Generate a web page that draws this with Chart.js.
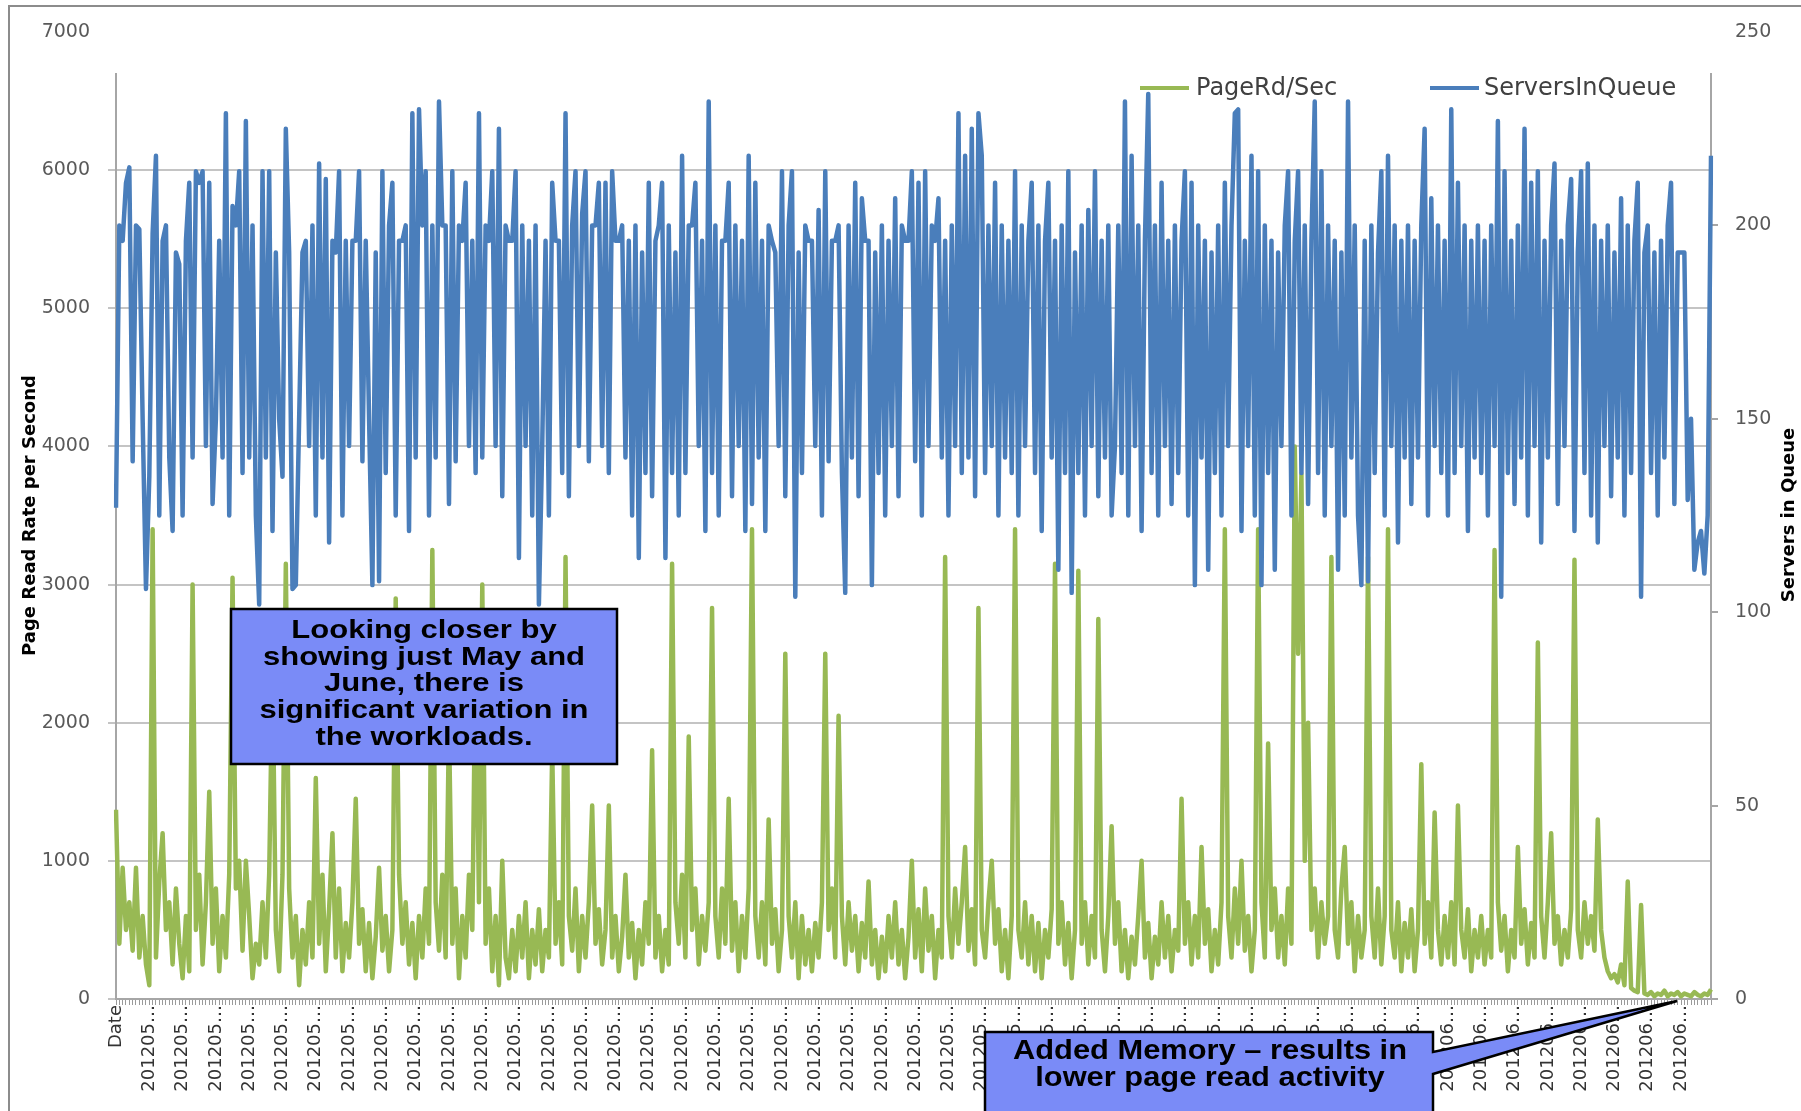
<!DOCTYPE html>
<html><head><meta charset="utf-8">
<script src="https://cdn.jsdelivr.net/npm/chart.js@4.4.1/dist/chart.umd.min.js"></script>
<style>html,body{margin:0;padding:0;background:#fff;}canvas{display:block;}</style>
</head><body>
<canvas id="c" width="1801" height="1111"></canvas>
<script>
const tickLabels = ["Date",
 "201205…","201205…","201205…","201205…","201205…","201205…","201205…","201205…","201205…","201205…",
 "201205…","201205…","201205…","201205…","201205…","201205…","201205…","201205…","201205…","201205…",
 "201205…","201205…","201205…","201205…","201205…","201205…","201205…","201205…","201205…","201205…",
 "201205…","201205…","201205…","201205…","201205…","201205…",
 "201206…","201206…","201206…","201206…","201206…","201206…","201206…","201206…","201206…","201206…","201206…"];

const pageReads = [
1370,400,950,500,700,350,950,300,600,250,
100,3400,300,850,1200,500,700,250,800,400,
150,600,200,3000,500,900,250,700,1500,400,
800,200,600,300,900,3050,800,1000,350,1000,
600,150,400,250,700,300,900,2400,500,200,
900,3150,800,300,600,100,500,250,700,300,
1600,400,900,200,650,1200,300,800,200,550,
300,700,1450,400,650,200,550,150,450,950,
350,600,200,500,2900,900,400,700,250,550,
150,600,300,800,400,3250,700,350,900,300,
2000,400,800,150,600,300,900,500,2600,700,
3000,400,800,200,600,100,1000,300,150,500,
200,600,300,700,150,500,250,650,200,500,
300,1800,400,700,250,3200,600,350,800,200,
600,300,700,1400,400,650,250,500,1400,300,
600,200,450,900,300,550,150,500,250,700,
400,1800,300,600,200,500,250,3150,700,400,
900,300,1900,500,800,250,600,350,700,2830,
600,300,800,400,1450,350,700,200,600,300,
800,3400,600,300,700,250,1300,400,650,200,
500,2500,600,300,700,150,600,250,500,200,
550,300,700,2500,500,800,300,2050,600,250,
700,350,600,200,550,300,850,250,500,150,
450,200,600,300,700,250,500,150,450,1000,
300,650,200,800,350,600,150,500,300,3200,
600,300,800,400,700,1100,350,650,250,2830,
500,300,700,1000,400,650,200,500,150,600,
3400,500,300,700,250,600,200,550,150,500,
300,650,3150,400,700,250,550,150,500,3100,
400,700,250,600,300,2750,500,200,600,1250,
400,700,200,500,150,450,250,600,1000,300,
550,150,450,250,700,300,600,200,500,350,
1450,400,700,250,600,300,1100,400,650,200,
500,250,700,3400,600,300,800,400,1000,350,
600,200,500,3400,700,300,1850,500,800,300,
600,250,800,400,4000,2500,3800,1000,2000,500,
800,300,700,400,600,3200,500,300,800,1100,
400,700,200,600,300,500,3200,600,300,800,
250,600,3400,500,300,700,200,550,300,650,
200,500,1700,400,700,300,1350,500,250,600,
300,700,250,1400,500,300,650,200,500,300,
600,250,500,300,3250,700,350,600,200,500,
300,1100,400,650,250,550,300,2580,600,300,
700,1200,400,600,250,500,300,650,3180,500,
300,700,400,600,350,1300,500,300,200,150,
180,120,250,100,850,80,60,50,680,40,
30,50,20,40,30,60,20,40,30,50,
20,40,30,20,50,30,20,40,30,70];

const serversInQueue = [
127,200,196,211,215,139,200,199,150,106,
135,198,218,125,196,200,140,121,193,190,
125,196,211,140,214,211,214,143,211,128,
150,196,140,229,125,205,200,214,136,227,
140,200,125,102,214,140,214,121,193,150,
135,225,193,106,107,150,193,196,143,200,
125,216,140,212,118,196,193,214,125,196,
143,196,196,214,139,196,150,107,193,108,
214,136,200,211,125,196,196,200,121,229,
140,230,200,214,125,200,140,232,200,200,
128,214,139,200,196,211,143,196,136,229,
140,200,196,214,143,225,130,200,196,196,
214,114,200,143,196,125,200,102,143,196,
125,211,196,196,136,229,130,200,214,143,
203,214,139,200,200,211,143,211,136,214,
196,196,200,140,196,125,200,114,193,136,
211,130,196,200,211,114,200,136,193,125,
218,136,200,200,211,143,196,121,232,136,
200,125,196,196,211,130,200,143,196,121,
218,128,211,140,196,121,200,196,193,143,
214,130,200,214,104,193,136,200,196,196,
143,204,125,214,139,196,196,200,136,105,
200,140,211,130,207,196,196,107,193,136,
200,125,196,143,207,130,200,196,196,214,
139,211,125,214,143,200,196,207,140,196,
125,200,143,229,136,218,140,225,130,229,
218,136,200,143,211,125,200,140,196,136,
214,125,200,143,196,211,136,200,121,196,
211,140,196,111,200,136,214,105,193,136,
200,125,204,143,214,130,196,140,200,125,
143,200,136,232,125,218,143,200,121,196,
234,136,200,125,211,143,196,128,200,136,
196,214,125,211,107,200,140,196,111,193,
136,200,125,211,143,200,229,230,121,196,
143,218,125,214,107,200,136,196,111,193,
143,200,214,125,196,214,136,200,128,196,
232,136,214,125,200,143,196,111,193,125,
232,140,200,125,107,196,108,200,136,193,
214,125,218,143,200,118,196,140,200,128,
196,140,200,225,125,207,143,200,136,196,
125,230,136,211,143,200,121,196,140,200,
136,196,125,200,143,227,104,214,136,196,
128,200,140,225,125,211,143,214,118,196,
140,200,216,128,196,143,200,212,121,193,
214,136,216,125,200,118,196,143,200,130,
193,140,207,125,200,136,196,211,104,193,
200,136,193,125,196,140,200,211,128,193,
193,193,129,150,111,118,121,110,125,218];

const seriesNames = ["PageRd/Sec", "ServersInQueue"];
const seriesColors = ["#98B954", "#4A7EBB"];
const categories = pageReads.map((_, i) => tickLabels[Math.floor(i / 10)]);

const annotation1 = ["Looking closer by", "showing just May and", "June, there is", "significant variation in", "the workloads."];
const annotation2 = ["Added Memory – results in", "lower page read activity"];

function scaledText(ctx, text, cx, cy, sx) {
  ctx.save();
  ctx.translate(cx, cy);
  ctx.scale(sx, 1);
  ctx.textAlign = 'center';
  ctx.textBaseline = 'middle';
  ctx.fillText(text, 0, 0);
  ctx.restore();
}

const decor = {
  id: 'decor',
  beforeDraw(chart) {
    const {ctx, width, height} = chart;
    ctx.save();
    ctx.fillStyle = '#fff';
    ctx.fillRect(0, 0, width, height);
    ctx.strokeStyle = '#8c8c8c';
    ctx.lineWidth = 2;
    ctx.beginPath();
    ctx.moveTo(9, height + 5); ctx.lineTo(9, 6); ctx.lineTo(width + 5, 6);
    ctx.stroke();
    ctx.restore();
  },
  beforeDatasetsDraw(chart) {
    const {ctx, chartArea: a} = chart;
    ctx.save();
    ctx.strokeStyle = '#a6a6a6';
    ctx.lineWidth = 2;
    ctx.beginPath();
    ctx.moveTo(a.left, 73); ctx.lineTo(a.left, a.bottom);
    ctx.moveTo(a.right, 73); ctx.lineTo(a.right, a.bottom);
    ctx.stroke();
    ctx.restore();
  },
  afterDraw(chart) {
    const {ctx} = chart;
    ctx.save();
    const items = [[1140, 1196], [1430, 1484]];
    ctx.font = '24px "DejaVu Sans"';
    ctx.textBaseline = 'middle';
    ctx.textAlign = 'left';
    items.forEach((it, i) => {
      ctx.strokeStyle = seriesColors[i];
      ctx.lineWidth = 4;
      ctx.beginPath(); ctx.moveTo(it[0], 88); ctx.lineTo(it[0] + 49, 88); ctx.stroke();
      ctx.fillStyle = '#404040';
      ctx.fillText(seriesNames[i], it[1], 89);
    });
    ctx.save();
    ctx.translate(1789, 515);
    ctx.rotate(-Math.PI / 2);
    ctx.font = 'bold 18px "DejaVu Sans"';
    ctx.fillStyle = '#000';
    ctx.textAlign = 'center';
    ctx.textBaseline = 'middle';
    ctx.fillText('Servers in Queue', 0, 0);
    ctx.restore();

    ctx.fillStyle = '#7A8BF7';
    ctx.strokeStyle = '#000';
    ctx.lineWidth = 2.5;
    ctx.beginPath();
    ctx.rect(231, 609, 386, 155);
    ctx.fill(); ctx.stroke();
    ctx.fillStyle = '#000';
    ctx.font = 'bold 25px "Liberation Sans"';
    annotation1.forEach((t, i) => scaledText(ctx, t, 424, 631 + i * 26.7, 1.24));

    ctx.fillStyle = '#7A8BF7';
    ctx.beginPath();
    ctx.moveTo(985, 1032);
    ctx.lineTo(1433, 1032);
    ctx.lineTo(1433, 1052);
    ctx.lineTo(1677, 1001);
    ctx.lineTo(1433, 1074);
    ctx.lineTo(1433, 1125);
    ctx.lineTo(985, 1125);
    ctx.closePath();
    ctx.fill(); ctx.stroke();
    ctx.fillStyle = '#000';
    ctx.font = 'bold 28px "Liberation Sans"';
    const w1 = ctx.measureText(annotation2[0]).width;
    const sx = 394 / w1;
    scaledText(ctx, annotation2[0], 1210, 1051, sx);
    scaledText(ctx, annotation2[1], 1210, 1078, sx);
    ctx.restore();
  }
};

new Chart(document.getElementById('c'), {
  type: 'line',
  data: {
    labels: categories,
    datasets: [
      {label: seriesNames[0], data: pageReads, yAxisID: 'y', borderColor: seriesColors[0], backgroundColor: seriesColors[0], borderWidth: 4.5, pointRadius: 0, tension: 0, order: 1, borderJoinStyle: 'round'},
      {label: seriesNames[1], data: serversInQueue, yAxisID: 'y1', borderColor: seriesColors[1], backgroundColor: seriesColors[1], borderWidth: 4.5, pointRadius: 0, tension: 0, order: 0, borderJoinStyle: 'round'}
    ]
  },
  options: {
    responsive: false,
    animation: false,
    devicePixelRatio: 1,
    layout: {padding: {left: 12, right: 0, top: 32, bottom: 0}},
    plugins: {legend: {display: false}, tooltip: {enabled: false}},
    scales: {
      x: {
        type: 'category',
        offset: false,
        grid: {display: true, drawOnChartArea: false, drawTicks: true, tickLength: 6, color: '#9a9a9a', lineWidth: 1},
        border: {display: true, color: '#a6a6a6', width: 2},
        ticks: {
          autoSkip: false, maxRotation: 90, minRotation: 90, padding: 0,
          color: '#333', font: {family: 'DejaVu Sans', size: 18},
          callback: function(value, index) { return index % 10 === 0 ? this.getLabelForValue(value) : ''; }
        },
        afterFit: s => { s.height = 112; }
      },
      y: {
        position: 'left', min: 0, max: 7000,
        ticks: {stepSize: 1000, padding: 18, color: '#595959', font: {family: 'DejaVu Sans', size: 19}, callback: v => String(v)},
        grid: {color: c => (c.tick && c.tick.value === 7000) ? 'rgba(0,0,0,0)' : '#c4c4c4', lineWidth: 2, tickLength: 8},
        border: {display: false},
        title: {display: true, text: 'Page Read Rate per Second', color: '#000', font: {family: 'DejaVu Sans', size: 18, weight: 'bold'}, padding: {top: 8, bottom: 0}},
        afterFit: s => { s.width = 104; }
      },
      y1: {
        position: 'right', min: 0, max: 250,
        ticks: {stepSize: 50, padding: 17, color: '#595959', font: {family: 'DejaVu Sans', size: 19}, callback: v => String(v)},
        grid: {drawOnChartArea: false, tickLength: 7, color: c => (c.tick && c.tick.value === 250) ? 'rgba(0,0,0,0)' : '#a6a6a6', lineWidth: 2},
        border: {display: false},
        afterFit: s => { s.width = 90; }
      }
    }
  },
  plugins: [decor]
});
</script>
</body></html>
